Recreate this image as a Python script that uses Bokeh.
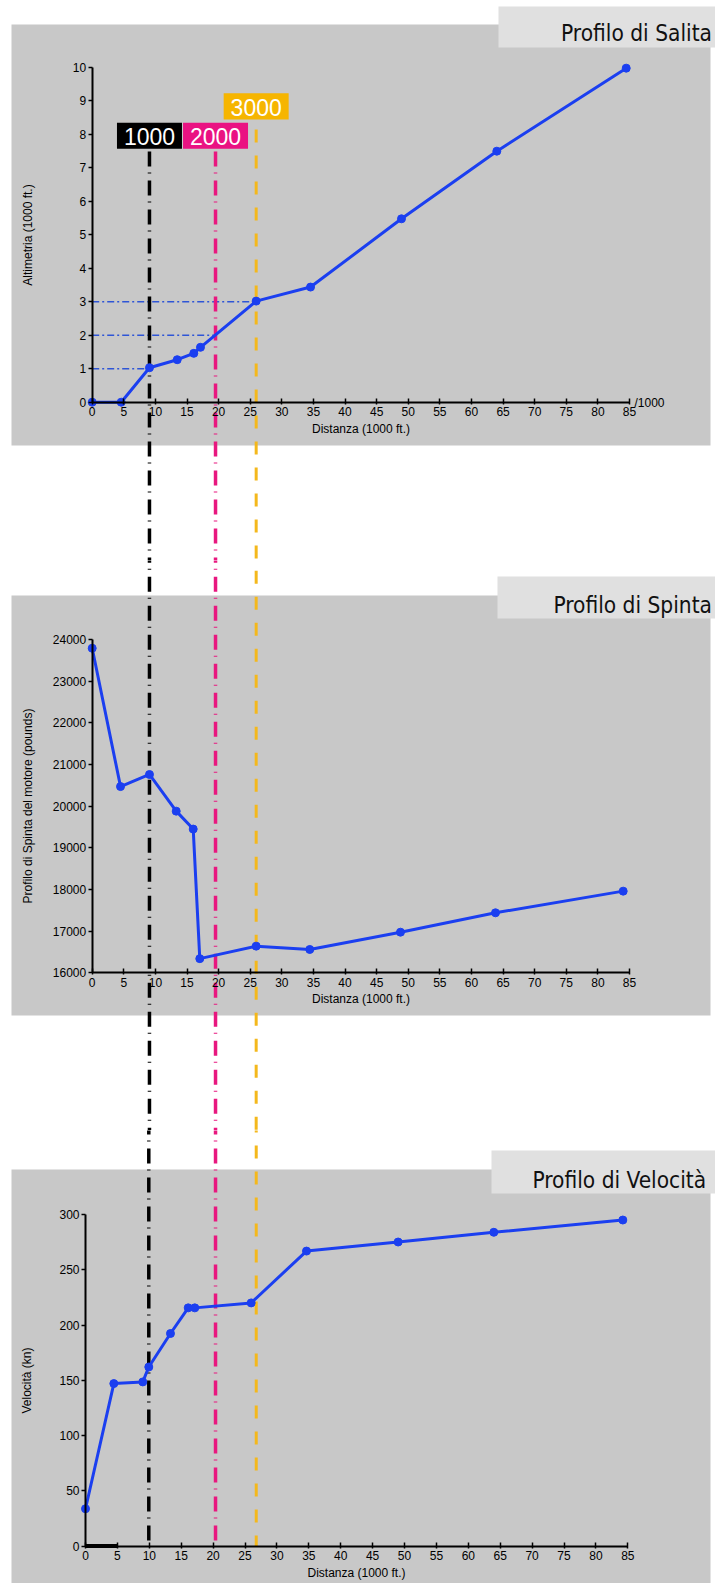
from bokeh.plotting import figure
from bokeh.layouts import column
from bokeh.models import BoxAnnotation, Label, FixedTicker
from bokeh.embed import file_html
from bokeh.resources import INLINE

# ---------------- data ----------------
distanza_salita = [0, 4.59, 9.06, 13.45, 16.07, 17.13, 25.94, 34.54, 48.93, 64.01, 84.48]
altimetria = [0, 0, 1.03, 1.27, 1.46, 1.64, 3.02, 3.44, 5.48, 7.50, 9.98]

distanza_spinta = [0, 4.48, 9.06, 13.29, 15.98, 17.02, 25.94, 34.42, 48.77, 63.80, 84.0]
spinta = [23790, 20470, 20760, 19880, 19450, 16340, 16640, 16560, 16975, 17440, 17960]

distanza_velocita = [0, 4.44, 8.98, 9.92, 13.32, 16.10, 17.13, 25.97, 34.64, 49.0, 64.0, 84.22]
velocita = [33.7, 147, 148.5, 162, 192.3, 215.5, 215.5, 220, 266.9, 275.1, 283.9, 295]

quote_etichette = ["1000", "2000", "3000"]
quote_altitudine = [1, 2, 3]
quote_distanza_sup = [9.06, 19.51, 25.94]   # on the scale of the upper panels
quote_distanza_inf = [9.92, 20.38, 26.76]   # on the scale of the lower panel
evidenza_asse_x = [0, 5]

x_ticks = list(range(0, 90, 5))
y_ticks_salita = list(range(0, 11))
y_ticks_spinta = list(range(16000, 25000, 1000))
y_ticks_velocita = list(range(0, 301, 50))

# ---------------- styles ----------------
BLUE = "#1b3ff0"
GREY = "#c8c8c8"
TITLE_BG = "#e0e0e0"
LINE_COLORS = ["#000000", "#e8177f", "#f4b81c"]
BOX_COLORS = ["#000000", "#ea1282", "#f6b500"]
LINE_DASH = ["15 6 1 7", "15 6 1 7", "13 13"]
LINE_W = [3.5, 3.5, 3]
TICK_FONT = "Liberation Sans"
TITLE_FONT = "DejaVu Sans Condensed"

W = 715
M = 0  # observed offset between page and picture


def make_panel(top, h, xd, xp, yd, yp):
    ppx = (xp[1] - xp[0]) / (xd[1] - xd[0])
    xs = xd[0] - (xp[0] - M) / ppx
    xe = xs + W / ppx
    ppy = (yp[0] - yp[1]) / (yd[1] - yd[0])
    ye = yd[0] + (yp[0] - top) / ppy
    ys = ye - h / ppy
    p = figure(width=W, height=h, x_range=(xs, xe), y_range=(ys, ye),
               output_backend="svg", toolbar_location=None,
               min_border_left=0, min_border_right=0, min_border_top=0, min_border_bottom=0)
    p.grid.visible = False
    p.outline_line_color = None
    p.background_fill_color = "white"
    p.border_fill_color = "white"
    info = dict(top=top, h=h, ppx=ppx, ppy=ppy, xs=xs, xe=xe, ys=ys, ye=ye)
    return p, info


def cy2data(info, ref_y):
    return info["ye"] - (ref_y - info["top"]) / info["ppy"]


def add_backgrounds(p, info, grey, tbox):
    top = info["top"]
    p.add_layout(BoxAnnotation(left=grey[0] - M, right=grey[2] - M, top=grey[1] - top, bottom=grey[3] - top,
                               left_units="canvas", right_units="canvas", top_units="canvas", bottom_units="canvas",
                               fill_color=GREY, fill_alpha=1, line_color=None, level="underlay"))
    p.add_layout(BoxAnnotation(left=tbox[0] - M, right=tbox[2] - M, top=tbox[1] - top, bottom=tbox[3] - top,
                               left_units="canvas", right_units="canvas", top_units="canvas", bottom_units="canvas",
                               fill_color=TITLE_BG, fill_alpha=1, line_color=None, level="underlay"))


def add_title(p, info, text, right, baseline):
    p.add_layout(Label(x=right - M, y=baseline - info["top"], x_units="canvas", y_units="canvas",
                       text=text, text_align="right", text_baseline="alphabetic",
                       text_font=TITLE_FONT, text_font_size="22.5px", text_color="#111111"))


def style_axes(p, xfix, yfix, ybounds, yticks, ylabel, ylab_standoff):
    xa = p.xaxis[0]
    ya = p.yaxis[0]
    xa.fixed_location = xfix
    ya.fixed_location = yfix
    xa.bounds = (0, 85)
    ya.bounds = ybounds
    xa.ticker = FixedTicker(ticks=x_ticks)
    ya.ticker = FixedTicker(ticks=yticks)
    xa.axis_label = "Distanza (1000 ft.)"
    ya.axis_label = ylabel
    for a in (xa, ya):
        a.axis_line_width = 2
        a.axis_line_color = "black"
        a.major_tick_line_width = 1.5
        a.major_tick_line_color = "black"
        a.minor_tick_line_color = None
        a.major_label_text_font = TICK_FONT
        a.major_label_text_font_size = "12px"
        a.major_label_text_color = "black"
        a.axis_label_text_font = TICK_FONT
        a.axis_label_text_font_size = "12px"
        a.axis_label_text_font_style = "normal"
        a.axis_label_text_color = "black"
    xa.major_tick_in = 4
    xa.major_tick_out = 2
    xa.major_label_standoff = 3
    xa.axis_label_standoff = 2
    ya.major_tick_in = 0
    ya.major_tick_out = 4
    ya.major_label_standoff = 2
    ya.axis_label_standoff = ylab_standoff


# ================= Panel 1: Profilo di Salita =================
p1, i1 = make_panel(0, 560, (0, 85), (91.7, 629), (0, 10), (401.7, 67))
add_backgrounds(p1, i1, (11, 24, 710, 445), (498, 6, 715, 47))

p1.segment(x0=[0] * len(quote_altitudine), y0=quote_altitudine, x1=quote_distanza_sup, y1=quote_altitudine,
           line_color="#2e55d6", line_width=1.4, line_dash="7 3 2 3")
starts = [151, 151, 129]
for k in range(3):
    p1.segment(x0=[quote_distanza_sup[k]], y0=[cy2data(i1, starts[k])],
               x1=[quote_distanza_sup[k]], y1=[i1["ys"] - 1],
               line_color=LINE_COLORS[k], line_width=LINE_W[k], line_dash=LINE_DASH[k])
p1.line(distanza_salita, altimetria, line_color=BLUE, line_width=3)
p1.scatter(distanza_salita, altimetria, size=8, color=BLUE)
style_axes(p1, 0, 0, (0, 10), y_ticks_salita, "Altimetria (1000 ft.)", 35)

p1.add_layout(Label(x=85, y=0, x_offset=5, y_offset=-1, text="/1000", text_baseline="middle",
                    text_font=TICK_FONT, text_font_size="12px", text_color="black"))

box_y = [(122.3, 148.3), (122.3, 148.3), (92.7, 119.0)]
half_w = 32.5 / i1["ppx"]
for k in range(3):
    t, b = box_y[k]
    p1.add_layout(BoxAnnotation(left=quote_distanza_sup[k] - half_w, right=quote_distanza_sup[k] + half_w,
                                top=t - i1["top"], bottom=b - i1["top"],
                                top_units="canvas", bottom_units="canvas",
                                fill_color=BOX_COLORS[k], fill_alpha=1, line_color=None))
    p1.add_layout(Label(x=quote_distanza_sup[k], y=(t + b) / 2 - i1["top"] + 1, y_units="canvas",
                        text=quote_etichette[k], text_align="center", text_baseline="middle",
                        text_font=TICK_FONT, text_font_size="23px", text_color="white"))
add_title(p1, i1, "Profilo di Salita", 711.5, 32.3)

# ================= Panel 2: Profilo di Spinta =================
p2, i2 = make_panel(560, 570, (0, 85), (91.7, 629), (16000, 24000), (972.3, 639))
add_backgrounds(p2, i2, (11, 595, 710, 1015), (497, 576, 715, 618))
for k in range(3):
    p2.segment(x0=[quote_distanza_sup[k]], y0=[i2["ye"] + 1000],
               x1=[quote_distanza_sup[k]], y1=[i2["ys"] - 1000],
               line_color=LINE_COLORS[k], line_width=LINE_W[k], line_dash=LINE_DASH[k])
p2.line(distanza_spinta, spinta, line_color=BLUE, line_width=3)
p2.scatter(distanza_spinta, spinta, size=8, color=BLUE)
style_axes(p2, 16000, 0, (16000, 24000), y_ticks_spinta, "Profilo di Spinta del motore (pounds)", 15)
add_title(p2, i2, "Profilo di Spinta", 711.5, 604)

# ================= Panel 3: Profilo di Velocità =================
p3, i3 = make_panel(1130, 453, (0, 85), (85, 627.3), (0, 300), (1545.5, 1214))
add_backgrounds(p3, i3, (11, 1169, 710, 1600), (491, 1150, 715, 1193))
for k in range(3):
    p3.segment(x0=[quote_distanza_inf[k]], y0=[i3["ye"] + 10],
               x1=[quote_distanza_inf[k]], y1=[0],
               line_color=LINE_COLORS[k], line_width=LINE_W[k], line_dash=LINE_DASH[k])
p3.line(evidenza_asse_x, [0, 0], line_color="black", line_width=4)
p3.line(distanza_velocita, velocita, line_color=BLUE, line_width=3)
p3.scatter(distanza_velocita, velocita, size=8, color=BLUE)
style_axes(p3, 0, 0, (0, 300), y_ticks_velocita, "Velocità (kn)", 22)
add_title(p3, i3, "Profilo di Velocità", 705.7, 1179)

layout = column(p1, p2, p3, spacing=0)
open("out.html", "w").write(file_html(layout, INLINE))
